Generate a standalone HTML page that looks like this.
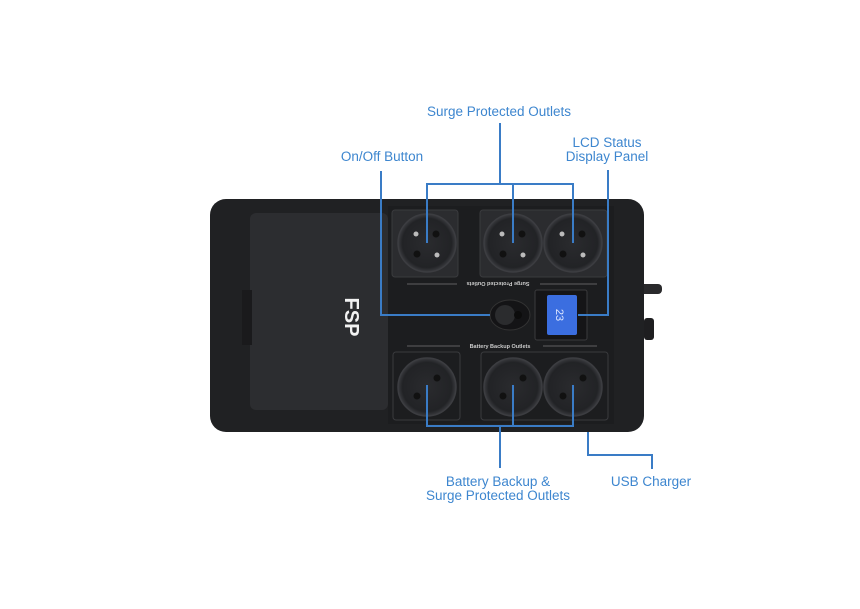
<!DOCTYPE html>
<html><head><style>
html,body{margin:0;padding:0;background:#fff;}
svg{display:block;}
text{font-family:"Liberation Sans",sans-serif;}
</style></head><body>
<svg width="860" height="609" viewBox="0 0 860 609" xmlns="http://www.w3.org/2000/svg">
<defs>
<radialGradient id="sk" cx="0.5" cy="0.5" r="0.5">
<stop offset="0" stop-color="#2a2b2e"/><stop offset="0.85" stop-color="#222326"/><stop offset="1" stop-color="#3a3b3f"/>
</radialGradient>
</defs>
<!-- cable -->
<rect x="630" y="284" width="32" height="10" rx="4" fill="#2a2a2c"/>
<rect x="644" y="318" width="10" height="22" rx="3" fill="#1e1e20"/>
<!-- body -->
<rect x="210" y="199" width="434" height="233" rx="16" fill="#202123"/>
<rect x="250" y="213" width="138" height="197" rx="6" fill="#2c2d30"/>
<rect x="242" y="290" width="10" height="55" fill="#1a1a1c"/>
<rect x="388" y="206" width="226" height="218" fill="#1c1d1f"/>
<text x="0" y="0" transform="translate(345,317) rotate(90)" fill="#f2f2f2" font-size="20" font-weight="bold" text-anchor="middle">FSP</text>
<!-- top panels -->
<rect x="392" y="210" width="66" height="67" rx="3" fill="#2b2c2f" stroke="#3a3b3e"/>
<rect x="480" y="210" width="127" height="67" rx="3" fill="#2b2c2f" stroke="#3a3b3e"/>
<g fill="url(#sk)" stroke="#3c3d41" stroke-width="1.5">
<circle cx="427" cy="243" r="29"/><circle cx="513" cy="243" r="29"/><circle cx="573" cy="243" r="29"/>
<circle cx="427" cy="387" r="29"/><circle cx="513" cy="387" r="29"/><circle cx="573" cy="387" r="29"/>
</g>
<g fill="#bbb">
<circle cx="416" cy="234" r="2.5"/><circle cx="437" cy="255" r="2.5"/>
<circle cx="502" cy="234" r="2.5"/><circle cx="523" cy="255" r="2.5"/>
<circle cx="562" cy="234" r="2.5"/><circle cx="583" cy="255" r="2.5"/>
</g>
<g fill="#111">
<circle cx="436" cy="234" r="3.5"/><circle cx="417" cy="254" r="3.5"/>
<circle cx="522" cy="234" r="3.5"/><circle cx="503" cy="254" r="3.5"/>
<circle cx="582" cy="234" r="3.5"/><circle cx="563" cy="254" r="3.5"/>
<circle cx="437" cy="378" r="3.5"/><circle cx="417" cy="396" r="3.5"/>
<circle cx="523" cy="378" r="3.5"/><circle cx="503" cy="396" r="3.5"/>
<circle cx="583" cy="378" r="3.5"/><circle cx="563" cy="396" r="3.5"/>
</g>
<line x1="407" y1="284" x2="457" y2="284" stroke="#777" stroke-width="0.8"/>
<line x1="540" y1="284" x2="597" y2="284" stroke="#777" stroke-width="0.8"/>
<text x="0" y="0" transform="translate(498,282) rotate(180)" fill="#ccc" font-size="5.5" font-weight="bold" text-anchor="middle">Surge Protected Outlets</text>
<!-- switch -->
<ellipse cx="510" cy="315" rx="20" ry="15" fill="#141416" stroke="#333"/>
<ellipse cx="505" cy="315" rx="10" ry="10" fill="#2b2c2e"/>
<circle cx="518" cy="315" r="4" fill="#0c0c0c"/>
<!-- LCD -->
<rect x="535" y="290" width="52" height="50" rx="2" fill="#151517" stroke="#3a3a3c"/>
<rect x="547" y="295" width="30" height="40" rx="2" fill="#3b6ee0"/>
<text x="0" y="0" transform="translate(556,315) rotate(90)" fill="#dfe8ff" font-size="11" text-anchor="middle">23</text>
<!-- bottom -->
<line x1="407" y1="346" x2="460" y2="346" stroke="#777" stroke-width="0.8"/>
<line x1="543" y1="346" x2="597" y2="346" stroke="#777" stroke-width="0.8"/>
<text x="500" y="348" fill="#ccc" font-size="5.5" font-weight="bold" text-anchor="middle">Battery Backup Outlets</text>
<rect x="393" y="352" width="67" height="68" rx="3" fill="none" stroke="#3a3b3e"/>
<rect x="481" y="352" width="127" height="68" rx="3" fill="none" stroke="#3a3b3e"/>
<!-- connectors -->
<g stroke="#3a7cc6" stroke-width="2" fill="none">
<polyline points="500,123 500,184"/>
<polyline points="427,243 427,184 573,184 573,243"/>
<line x1="513" y1="184" x2="513" y2="243"/>
<polyline points="381,171 381,315 490,315"/>
<polyline points="608,170 608,315 578,315"/>
<polyline points="427,385 427,426 573,426 573,385"/>
<line x1="513" y1="385" x2="513" y2="426"/>
<line x1="500" y1="426" x2="500" y2="468"/>
<polyline points="588,432 588,455 652,455 652,469"/>
</g>
<g fill="#3d86cf" font-size="13.5" text-anchor="middle">
<text x="499" y="116">Surge Protected Outlets</text>
<text x="382" y="161">On/Off Button</text>
<text x="607" y="147">LCD Status</text>
<text x="607" y="161">Display Panel</text>
<text x="498" y="486">Battery Backup &amp;</text>
<text x="498" y="500">Surge Protected Outlets</text>
<text x="651" y="486">USB Charger</text>
</g>
</svg>
</body></html>
